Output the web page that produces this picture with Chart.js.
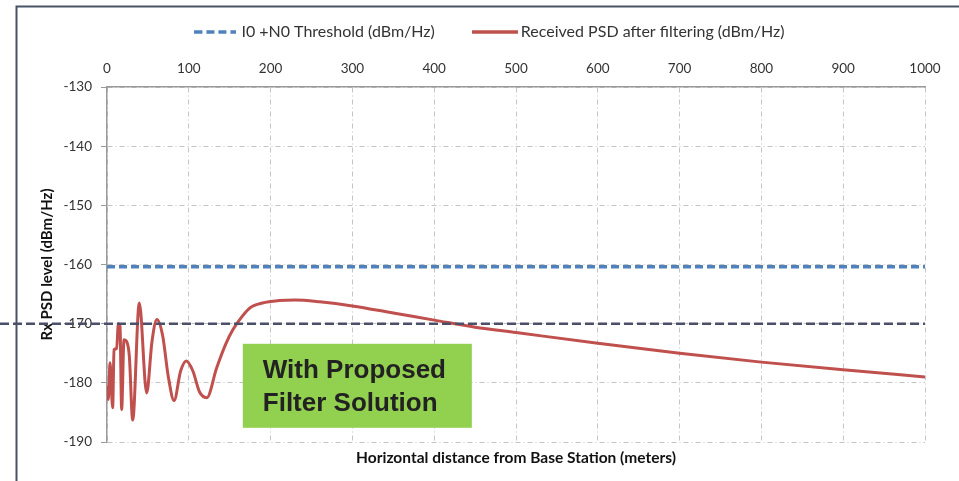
<!DOCTYPE html>
<html>
<head>
<meta charset="utf-8">
<script src="https://cdn.jsdelivr.net/npm/chart.js@4/dist/chart.umd.min.js"></script>
<style>
  html, body { margin: 0; padding: 0; background: #fff; }
</style>
</head>
<body>
<canvas id="psdChart" width="959" height="481"></canvas>
<script>
// distance from base station (m) and received PSD after filtering (dBm/Hz)
var distance = [0, 1.6, 3.7, 6.9, 8.6, 11.8, 13.9, 15.9, 17.9, 20.8, 24, 27.3, 31.4, 39.5, 48.5,
                55, 61, 68, 75, 82, 90, 97, 105, 113, 122, 134, 145, 154, 165, 175, 190,
                210, 230, 260, 300, 350, 400, 450, 500, 600, 700, 800, 900, 1000];
var rxPsd = [-180.5, -182.8, -176.6, -184.2, -174.4, -174.2, -170, -170.5, -184.5, -172.7, -173, -175.5, -186.3, -166.5, -181.7,
             -173, -169.3, -172, -179, -183, -178, -176.3, -178, -181.5, -182.5, -177.5, -173.5, -171, -168.8, -167.3, -166.5,
             -166.1, -166.0, -166.3, -167.0, -168.2, -169.4, -170.6, -171.5, -173.3, -175, -176.5, -177.8, -179];
var thresholdDistance = [0, 1000];
var thresholdLevel = [-160.4, -160.4];
var markerLevel = -170;
var xTickValues = [0, 100, 200, 300, 400, 500, 600, 700, 800, 900, 1000];
var yTickValues = [-130, -140, -150, -160, -170, -180, -190];
var seriesNames = ['I0 +N0 Threshold (dBm/Hz)', 'Received PSD after filtering (dBm/Hz)'];
var noteLines = ['With Proposed', 'Filter Solution'];

var PAD_L = 57, PAD_R = 34, PAD_T = 14;

function toPoints(xs, ys) {
    var pts = [];
    for (var i = 0; i < xs.length; i++) pts.push({x: xs[i], y: ys[i]});
    return pts;
}

// small line samples for the legend
function lineSample(color, width, dash) {
    var c = document.createElement('canvas');
    c.width = width;
    c.height = 4;
    var g = c.getContext('2d');
    g.strokeStyle = color;
    g.lineWidth = 3.5;
    g.setLineDash(dash);
    g.beginPath();
    g.moveTo(0, 2);
    g.lineTo(width, 2);
    g.stroke();
    return c;
}

var framePlugin = {
    id: 'frame',
    beforeDraw: function(chart) {
        var ctx = chart.ctx;
        ctx.save();
        ctx.fillStyle = '#fff';
        ctx.fillRect(0, 0, chart.width, chart.height);
        ctx.strokeStyle = '#485466';
        ctx.lineWidth = 2;
        ctx.beginPath();
        ctx.moveTo(16.5, chart.height);
        ctx.lineTo(16.5, 6.5);
        ctx.lineTo(chart.width, 6.5);
        ctx.stroke();
        ctx.restore();
    }
};

var overlayPlugin = {
    id: 'overlay',
    afterDatasetsDraw: function(chart) {
        var ctx = chart.ctx, xs = chart.scales.x, ys = chart.scales.y;
        ctx.save();
        // -170 dBm/Hz marker line
        var my = ys.getPixelForValue(markerLevel);
        ctx.strokeStyle = '#4b4f68';
        ctx.lineWidth = 2.5;
        ctx.setLineDash([9, 4]);
        ctx.beginPath();
        ctx.moveTo(0, my);
        ctx.lineTo(chart.chartArea.right, my);
        ctx.stroke();
        ctx.setLineDash([]);
        // green note box
        var x0 = xs.getPixelForValue(166), x1 = xs.getPixelForValue(446);
        var y0 = ys.getPixelForValue(-173.4), y1 = ys.getPixelForValue(-187.6);
        ctx.fillStyle = '#92d050';
        ctx.fillRect(x0, y0, x1 - x0, y1 - y0);
        ctx.fillStyle = '#222';
        ctx.font = 'bold 26px "Liberation Sans", Arial, sans-serif';
        ctx.textBaseline = 'middle';
        ctx.textAlign = 'left';
        ctx.fillText(noteLines[0], x0 + 20, y0 + 27);
        ctx.fillText(noteLines[1], x0 + 20, y0 + 60);
        ctx.restore();
    }
};

new Chart(document.getElementById('psdChart').getContext('2d'), {
    type: 'line',
    data: {
        datasets: [{
            label: seriesNames[0],
            data: toPoints(thresholdDistance, thresholdLevel),
            borderColor: '#4f81bd',
            backgroundColor: '#4f81bd',
            borderWidth: 3.5,
            borderDash: [8, 4],
            pointRadius: 0,
            pointStyle: lineSample('#4f81bd', 42, [8, 4])
        }, {
            label: seriesNames[1],
            data: toPoints(distance, rxPsd),
            borderColor: '#c0504d',
            backgroundColor: '#c0504d',
            borderWidth: 3,
            pointRadius: 0,
            pointStyle: lineSample('#c0504d', 46, []),
            cubicInterpolationMode: 'monotone'
        }]
    },
    options: {
        responsive: false,
        animation: false,
        layout: { padding: { left: PAD_L, right: PAD_R, top: PAD_T, bottom: 0 } },
        plugins: {
            tooltip: { enabled: false },
            legend: {
                position: 'top',
                labels: {
                    usePointStyle: true,
                    pointStyleWidth: 36,
                    padding: 10,
                    color: '#333',
                    font: { family: 'Lato, "Open Sans", sans-serif', size: 16 },
                    generateLabels: function(chart) {
                        var items = Chart.defaults.plugins.legend.labels.generateLabels(chart);
                        items[0].text = items[0].text + '\u2002\u2002\u2002\u2002';
                        return items;
                    }
                }
            }
        },
        scales: {
            x: {
                type: 'linear',
                position: 'top',
                min: 0, max: 1000,
                afterBuildTicks: function(s) { s.ticks = xTickValues.map(function(v) { return {value: v}; }); },
                afterFit: function(s) {
                    var lg = s.chart.legend;
                    s.height = 87 - PAD_T - (lg ? lg.height : 0);
                },
                ticks: {
                    padding: 10, color: '#333', font: { family: 'Lato, sans-serif', size: 13.5 },
                    callback: function(v) { return String(v); }
                },
                grid: { color: '#c4c4c4', lineWidth: 1, drawTicks: false },
                border: { display: true, color: '#9a9a9a', width: 1.5, dash: [5, 3, 1, 3] }
            },
            x2: {
                type: 'linear',
                position: 'bottom',
                min: 0, max: 1000,
                afterFit: function(s) { s.height = 39; },
                ticks: { display: false },
                grid: { display: false, drawTicks: false },
                border: { display: false },
                title: {
                    display: true,
                    text: 'Horizontal distance from Base Station (meters)',
                    color: '#111',
                    font: { family: 'Lato, sans-serif', size: 15.5, weight: 'bold' },
                    padding: { top: 0, bottom: 14 }
                }
            },
            y: {
                type: 'linear',
                min: -190, max: -130,
                afterBuildTicks: function(s) { s.ticks = yTickValues.map(function(v) { return {value: v}; }); },
                afterFit: function(s) { s.width = 107 - PAD_L; },
                ticks: { padding: 9, color: '#333', font: { family: 'Lato, sans-serif', size: 13.5 } },
                grid: { color: '#c4c4c4', lineWidth: 1, tickLength: 6, tickColor: '#9a9a9a', tickBorderDash: [] },
                border: { display: true, color: '#9a9a9a', width: 1.5, dash: [5, 3, 1, 3] },
                title: {
                    display: true,
                    text: 'Rx PSD level (dBm/Hz)',
                    color: '#111',
                    font: { family: 'Lato, sans-serif', size: 15, weight: 'bold' },
                    padding: { top: -19, bottom: 0 }
                }
            }
        }
    },
    plugins: [framePlugin, overlayPlugin]
});
</script>
</body>
</html>
